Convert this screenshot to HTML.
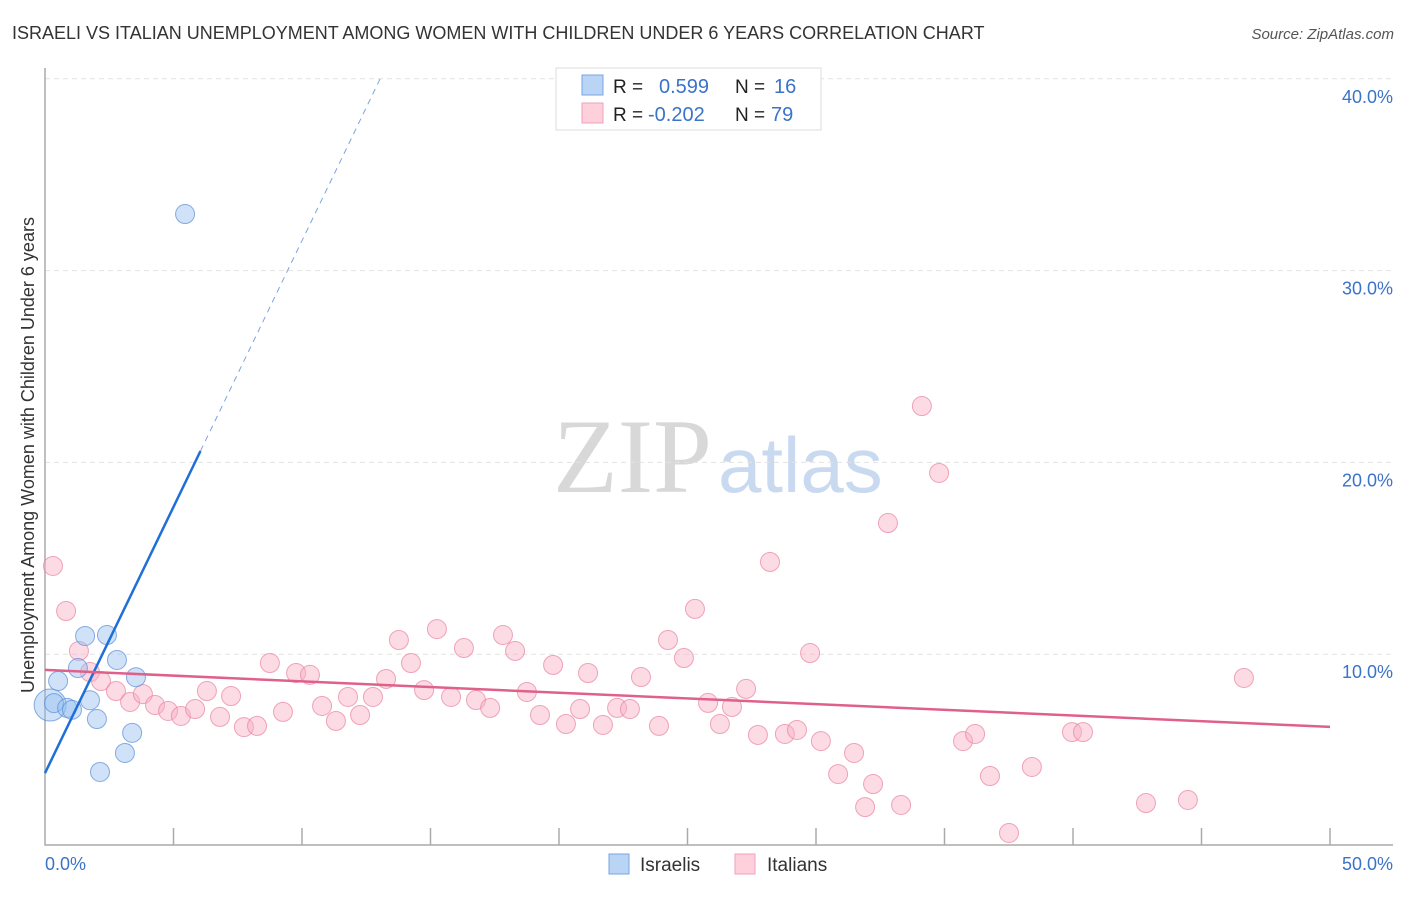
<!DOCTYPE html>
<html><head><meta charset="utf-8"><style>
body{margin:0;background:#fff;font-family:"Liberation Sans",sans-serif}
svg text{font-family:"Liberation Sans",sans-serif}
</style></head><body>
<svg width="1406" height="892" xmlns="http://www.w3.org/2000/svg">
<text x="12" y="39" font-size="18" fill="#333">ISRAELI VS ITALIAN UNEMPLOYMENT AMONG WOMEN WITH CHILDREN UNDER 6 YEARS CORRELATION CHART</text>
<text x="1394" y="39" font-size="15" fill="#555" font-style="italic" text-anchor="end">Source: ZipAtlas.com</text>
<g>
<text x="553" y="492" font-size="106" fill="#d8d8d8" font-family="Liberation Serif" style="font-family:'Liberation Serif',serif">ZIP</text>
<text x="718" y="492" font-size="78" fill="#c9daf0">atlas</text>
</g>
<g id="grid"></g>
<g id="axes"></g>
<g id="marks"></g>
<text transform="translate(34,455) rotate(-90)" font-size="18" fill="#333" text-anchor="middle">Unemployment Among Women with Children Under 6 years</text>
<g>
<rect x="556" y="68" width="265" height="62" fill="#fff" stroke="#ddd"/>
<rect x="582" y="75" width="21" height="20" fill="#bad4f5" stroke="#7aa5e0"/>
<rect x="582" y="103" width="21" height="20" fill="#fdd0dc" stroke="#f0a0b8"/>
<text x="613" y="93" font-size="19" fill="#222">R =</text><text x="659" y="93" font-size="20" fill="#3a73c8">0.599</text>
<text x="735" y="93" font-size="19" fill="#222">N =</text><text x="774" y="93" font-size="20" fill="#3a73c8">16</text>
<text x="613" y="121" font-size="19" fill="#222">R =</text><text x="648" y="121" font-size="20" fill="#3a73c8">-0.202</text>
<text x="735" y="121" font-size="19" fill="#222">N =</text><text x="771" y="121" font-size="20" fill="#3a73c8">79</text>
</g>
<g>
<rect x="609" y="854" width="20" height="20" fill="#bad4f5" stroke="#7aa5e0"/>
<text x="640" y="871" font-size="19" fill="#333">Israelis</text>
<rect x="735" y="854" width="20" height="20" fill="#fdd0dc" stroke="#f0a0b8"/>
<text x="767" y="871" font-size="19" fill="#333">Italians</text>
</g>
</svg>
<script>
const yTicks=[10,20,30,40];
const yTickLabels=["10.0%","20.0%","30.0%","40.0%"];
const xTickCount=10;
const israeliX=[5.45,0.51,0.2,0.35,0.86,1.05,1.56,2.41,1.28,1.75,2.8,3.54,2.02,3.39,3.11,2.14];
const israeliY=[32.95,8.6,7.35,7.45,7.2,7.1,10.95,11.0,9.28,7.6,9.7,8.8,6.62,5.9,4.85,3.86];
const israeliR=[9.5,9.5,16,9.5,9.5,9.5,9.5,9.5,9.5,9.5,9.5,9.5,9.5,9.5,9.5,9.5];
const italianX=[0.31,0.82,1.32,1.75,2.18,2.76,3.31,3.81,4.28,4.79,5.29,5.84,6.30,6.81,7.24,7.74,8.25,8.75,9.26,9.77,10.31,10.78,11.32,11.79,12.26,12.76,13.27,13.77,14.24,14.75,15.25,15.80,16.30,16.77,17.32,17.82,18.29,18.75,19.26,19.77,20.27,20.82,21.13,21.71,22.26,22.76,23.19,23.89,24.24,24.86,25.29,25.80,26.26,26.73,27.28,27.74,28.21,28.79,29.26,29.77,30.19,30.86,31.48,31.91,32.22,32.80,33.31,34.12,34.79,35.72,36.19,36.77,37.51,38.40,39.96,40.39,42.84,44.47,46.65];
const italianY=[14.60,12.25,10.17,9.07,8.60,8.08,7.51,7.92,7.35,7.04,6.78,7.14,8.08,6.73,7.82,6.20,6.26,9.54,6.99,9.02,8.92,7.30,6.52,7.77,6.83,7.77,8.71,10.74,9.54,8.13,11.31,7.77,10.32,7.61,7.20,11.00,10.17,8.03,6.83,9.44,6.36,7.14,9.02,6.31,7.20,7.14,8.81,6.26,10.74,9.80,12.36,7.46,6.36,7.25,8.19,5.79,14.81,5.84,6.05,10.06,5.47,3.75,4.85,2.03,3.23,16.84,2.14,22.94,19.45,5.47,5.84,3.65,0.68,4.12,5.94,5.94,2.24,2.40,8.76];
const israeliTrend=[3.8,2.776]; // intercept, slope
const italianTrend=[9.18,6.21]; // y at x=0, y at x=50
const NS="http://www.w3.org/2000/svg";
const X=v=>45+v*25.7, Y=v=>846-v*19.18;
function mk(tag,attrs,parent){const e=document.createElementNS(NS,tag);for(const k in attrs)e.setAttribute(k,attrs[k]);document.getElementById(parent).appendChild(e);return e;}
yTicks.forEach((t,i)=>{
 const l=mk('line',{x1:45,x2:1393,y1:Y(t),y2:Y(t),stroke:'#e2e2e2','stroke-dasharray':'5,4'},'grid');
 
 
 const tx=mk('text',{x:1393,y:Y(t)+24,'font-size':18,fill:'#3a73c8','text-anchor':'end'},'grid');
 tx.textContent=yTickLabels[i];
 
 
});
const ax=mk('path',{d:'M45 68 V845 H1393',fill:'none',stroke:'#aaa','stroke-width':1.5},'axes');


for(let i=1;i<=xTickCount;i++){
 const t=mk('line',{x1:X(i*5),x2:X(i*5),y1:828,y2:845,stroke:'#aaa','stroke-width':1.5},'axes');
 
 
}
const xl0=mk('text',{x:45,y:870,'font-size':18,fill:'#3a73c8'},'axes');xl0.textContent='0.0%';


const xl1=mk('text',{x:1393,y:870,'font-size':18,fill:'#3a73c8','text-anchor':'end'},'axes');xl1.textContent='50.0%';


italianX.forEach((x,i)=>{
 const c=mk('circle',{cx:X(x),cy:Y(italianY[i]),r:9.5,fill:'rgba(248,175,197,0.45)',stroke:'rgba(232,130,160,0.7)'},'marks');
 
 
});
israeliX.forEach((x,i)=>{
 const c=mk('circle',{cx:X(x),cy:Y(israeliY[i]),r:israeliR[i],fill:'rgba(150,190,240,0.45)',stroke:'rgba(90,140,215,0.7)'},'marks');
 
 
});
const solidEnd=6.05, dashEnd=(40-israeliTrend[0])/israeliTrend[1];
const b1=mk('line',{x1:X(0),y1:Y(israeliTrend[0]),x2:X(solidEnd),y2:Y(israeliTrend[0]+israeliTrend[1]*solidEnd),stroke:'#1f6fd8','stroke-width':2.5},'marks');


const b2=mk('line',{x1:X(solidEnd),y1:Y(israeliTrend[0]+israeliTrend[1]*solidEnd),x2:X(dashEnd),y2:Y(40),stroke:'#7aa5e0','stroke-width':1,'stroke-dasharray':'6,5'},'marks');


const p1=mk('line',{x1:X(0),y1:Y(italianTrend[0]),x2:X(50),y2:Y(italianTrend[1]),stroke:'#e0608c','stroke-width':2.5},'marks');


</script>
</body></html>
